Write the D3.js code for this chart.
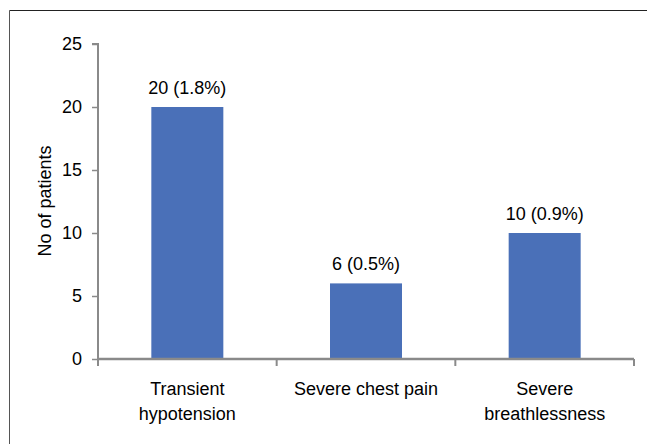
<!DOCTYPE html>
<html><head><meta charset="utf-8">
<script src="https://cdn.jsdelivr.net/npm/d3@7"></script>
<style>body{margin:0;background:#fff}svg{display:block}text{font-family:"Liberation Sans",Arial,sans-serif;fill:#000}</style>
</head><body><svg id="c" width="647" height="444"></svg>
<script>
const categories = [["Transient","hypotension"],["Severe chest pain"],["Severe","breathlessness"]];
const values = [20, 6, 10];
const valueLabels = ["20 (1.8%)", "6 (0.5%)", "10 (0.9%)"];
const yTicks = [0, 5, 10, 15, 20, 25];
const yTitle = "No of patients";

const svg = d3.select("#c");
const fs = 18;
// outer border (top and left visible)
svg.append("line").attr("x1",9.5).attr("x2",647).attr("y1",10.5).attr("y2",10.5).attr("stroke","#222").attr("stroke-width",1);
svg.append("line").attr("x1",9.5).attr("x2",9.5).attr("y1",10.5).attr("y2",444).attr("stroke","#555").attr("stroke-width",1);

const pL = 98, pR = 634, pT = 44, pB = 359;
const x = d3.scaleBand().domain(d3.range(categories.length)).range([pL, pR]).paddingInner(0).paddingOuter(0);
const y = d3.scaleLinear().domain([0, 25]).range([pB, pT]);
const barW = 72;
const axisColor = "#8a8a8a";

// bars
svg.selectAll("rect.bar").data(values).enter().append("rect")
  .attr("x",(d,i)=>x(i)+x.bandwidth()/2-barW/2).attr("width",barW)
  .attr("y",d=>y(d)).attr("height",d=>y(0)-y(d)).attr("fill","#4a70b8");

// value labels
svg.selectAll("text.vl").data(values).enter().append("text")
  .attr("x",(d,i)=>x(i)+x.bandwidth()/2).attr("y",d=>y(d)-13)
  .attr("text-anchor","middle").attr("font-size",fs).text((d,i)=>valueLabels[i]);

// y axis
const yAxis = d3.axisLeft(y).tickValues(yTicks).tickSize(6).tickPadding(10);
const gy = svg.append("g").attr("transform",`translate(${pL},0)`).call(yAxis);
gy.select(".domain").attr("stroke",axisColor).attr("stroke-width",2).attr("d",`M-6,${pT}H0V${pB}`);
gy.selectAll(".tick line").attr("stroke",axisColor).attr("stroke-width",1.5);
gy.selectAll(".tick text").attr("font-size",fs).attr("font-family","Liberation Sans, Arial, sans-serif").attr("fill","#000");

// x axis
const gx = svg.append("g").attr("transform",`translate(0,${pB})`);
gx.append("line").attr("x1",pL).attr("x2",pR).attr("y1",0).attr("y2",0).attr("stroke",axisColor).attr("stroke-width",2.5);
const bounds = d3.range(categories.length+1).map(i=> i<categories.length ? x(i) : x(i-1)+x.bandwidth());
gx.selectAll("line.tk").data(bounds).enter().append("line")
  .attr("x1",d=>d).attr("x2",d=>d).attr("y1",0).attr("y2",7).attr("stroke",axisColor).attr("stroke-width",2);

// category labels
categories.forEach((lines,i)=>{
  const t = svg.append("text").attr("text-anchor","middle").attr("font-size",fs)
    .attr("x",x(i)+x.bandwidth()/2).attr("y",395);
  lines.forEach((ln,j)=>t.append("tspan").attr("x",x(i)+x.bandwidth()/2).attr("dy",j===0?0:25).text(ln));
});

// y title
svg.append("text").attr("transform","translate(51,201) rotate(-90)")
  .attr("text-anchor","middle").attr("font-size",fs).text(yTitle);
</script></body></html>
